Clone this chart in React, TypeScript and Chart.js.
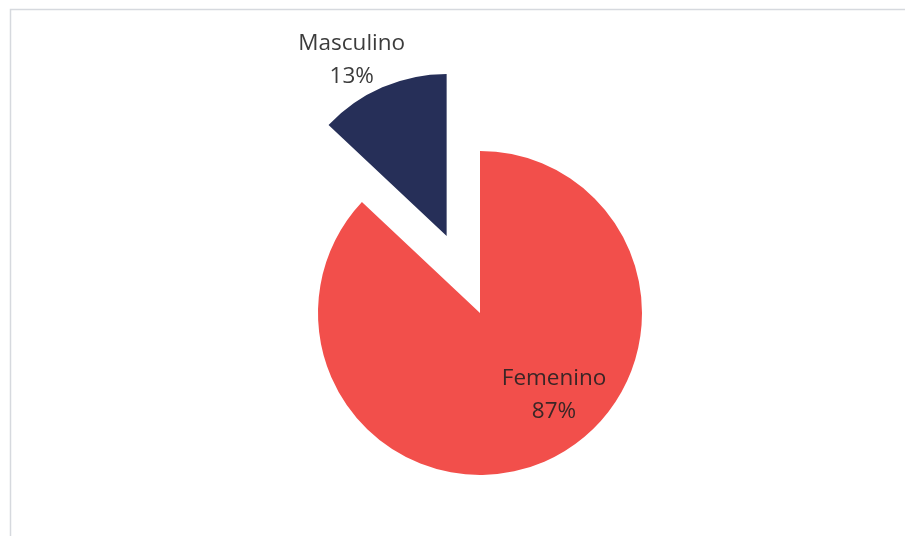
import React, { useEffect, useRef } from "react";
import { Chart, registerables } from "chart.js";

Chart.register(...registerables);

const categories = ["Femenino", "Masculino"];
const values = [87, 13];
const sliceColors = ["#F24F4B", "#262F58"];
// explosion distance of each slice, in pixels
const sliceOffsets = [0, 84];
// label anchor relative to (exploded) slice apex, in fractions of radius
const labelAnchors: [number, number][] = [
  [0.457, 0.506],
  [-0.586, -1.086],
];

const framePlugin = {
  id: "frame",
  beforeDraw(chart: any) {
    const ctx = chart.ctx;
    ctx.save();
    ctx.fillStyle = "#ffffff";
    ctx.fillRect(0, 0, chart.width, chart.height);
    ctx.strokeStyle = "#d6d9de";
    ctx.lineWidth = 1.5;
    ctx.beginPath();
    ctx.moveTo(10.5, chart.height);
    ctx.lineTo(10.5, 9.5);
    ctx.lineTo(chart.width, 9.5);
    ctx.stroke();
    ctx.restore();
  },
};

// draw each arc element translated along its mid-angle (exploded pie)
const explodePlugin = {
  id: "explode",
  beforeDatasetDraw(chart: any, args: any) {
    const ctx = chart.ctx;
    args.meta.data.forEach((arc: any, i: number) => {
      const mid = (arc.startAngle + arc.endAngle) / 2;
      const off = sliceOffsets[i] || 0;
      ctx.save();
      ctx.translate(Math.cos(mid) * off, Math.sin(mid) * off);
      arc.draw(ctx);
      ctx.restore();
    });
    return false;
  },
};

const labelPlugin = {
  id: "sliceLabels",
  afterDatasetsDraw(chart: any) {
    const meta = chart.getDatasetMeta(0);
    const ctx = chart.ctx;
    const total = values.reduce((a, b) => a + b, 0);
    meta.data.forEach((arc: any, i: number) => {
      const { x, y, startAngle, endAngle, outerRadius } = arc.getProps(
        ["x", "y", "startAngle", "endAngle", "outerRadius"],
        true
      );
      const mid = (startAngle + endAngle) / 2;
      const off = sliceOffsets[i];
      const ox = x + Math.cos(mid) * off;
      const oy = y + Math.sin(mid) * off;
      const lx = ox + labelAnchors[i][0] * outerRadius;
      const ly = oy + labelAnchors[i][1] * outerRadius;
      ctx.save();
      ctx.font = "22.5px 'Open Sans'";
      ctx.fillStyle = i === 0 ? "#3a2626" : "#3c3c3c";
      ctx.textAlign = "center";
      ctx.textBaseline = "middle";
      ctx.fillText(categories[i], lx, ly - 16.5);
      ctx.fillText(Math.round((values[i] / total) * 100) + "%", lx, ly + 16.5);
      ctx.restore();
    });
  },
};

export default function App() {
  const ref = useRef<HTMLCanvasElement | null>(null);
  useEffect(() => {
    if (!ref.current) return;
    const chart = new Chart(ref.current, {
      type: "pie",
      data: {
        labels: categories,
        datasets: [
          {
            data: values,
            backgroundColor: sliceColors,
            borderWidth: 0,
            radius: 162,
          } as any,
        ],
      },
      options: {
        animation: false,
        responsive: false,
        layout: { padding: { left: 100, right: 45, top: 100, bottom: 10 } },
        plugins: {
          legend: { display: false },
          tooltip: { enabled: false },
        },
      },
      plugins: [framePlugin, explodePlugin, labelPlugin],
    });
    return () => chart.destroy();
  }, []);
  return (
    <div style={{ position: "fixed", left: 0, top: 0, width: 905, height: 536 }}>
      <canvas ref={ref} width={905} height={536} style={{ display: "block" }} />
    </div>
  );
}
